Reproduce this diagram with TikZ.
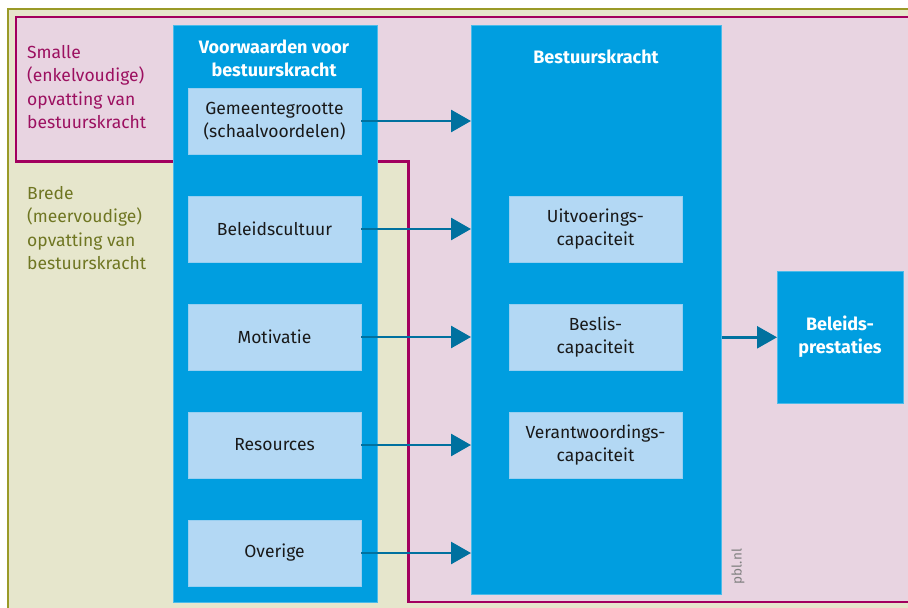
\documentclass[tikz,border=0pt]{standalone}
\usepackage{fontspec}
\setmainfont{Fira Sans}
\usetikzlibrary{arrows.meta}
\definecolor{olivefill}{HTML}{E6E6CC}
\definecolor{oliveline}{HTML}{9A9A28}
\definecolor{olivetext}{HTML}{6F7622}
\definecolor{pinkfill}{HTML}{E8D4E1}
\definecolor{magline}{HTML}{A2005E}
\definecolor{magtext}{HTML}{9C1060}
\definecolor{bluecol}{HTML}{009EE0}
\definecolor{lightbox}{HTML}{B3D8F4}
\definecolor{arrowcol}{HTML}{00719F}
\begin{document}
\begin{tikzpicture}[x=1pt,y=-1pt,
  column/.style={fill=bluecol, draw=bluecol!70!white, line width=0.6pt, inner sep=0pt, anchor=north west},
  innerbox/.style={fill=lightbox, draw=lightbox!85!bluecol, line width=0.6pt, minimum width=173pt, minimum height=66pt, inner sep=0pt, align=center, font=\fontsize{17.5}{23}\selectfont, text=black!90},
  coltitle/.style={text=white, font=\fontsize{18}{23}\selectfont\bfseries, align=center},
  sidelabel/.style={anchor=west, align=left, inner sep=0pt, font=\fontsize{17.5}{23.5}\selectfont},
  arr/.style={draw=arrowcol, line width=2.7pt, -{Triangle[length=20pt,width=22pt]}}
]
\useasboundingbox (0,0) rectangle (908,608);
\clip (0,0) rectangle (908,608);
% broad (olive) area
\fill[olivefill] (8,9) rectangle (930,630);
\draw[oliveline, line width=2pt] (930,9) -- (8,9) -- (8,630);
% narrow (magenta) area
\fill[pinkfill] (16,17) -- (930,17) -- (930,602) -- (408.5,602) -- (408.5,161.5) -- (16,161.5) -- cycle;
\draw[magline, line width=2.5pt] (930,17) -- (16,17) -- (16,161.5) -- (408.5,161.5) -- (408.5,602) -- (930,602);

% side labels
\node[sidelabel, text=magtext] (smalle) at (27,87) {Smalle\\(enkelvoudige)\\opvatting van\\bestuurskracht};
\node[sidelabel, text=olivetext] (brede) at (27,228) {Brede\\(meervoudige)\\opvatting van\\bestuurskracht};

% columns
\node[column, minimum width=204pt, minimum height=577pt] (vw) at (172.5,25) {};
\node[column, minimum width=250pt, minimum height=569pt] (bk) at (471,25) {};
\node[column, minimum width=126pt, minimum height=132pt] (bp) at (777,271) {};

\node[coltitle] (vwt) at (274,58) {Voorwaarden voor\\bestuurskracht};
\node[coltitle] (bkt) at (596,57) {Bestuurskracht};
\node[coltitle] (bpt) at (840,337) {Beleids-\\prestaties};

% left boxes
\node[innerbox] (g) at (274.5,121) {Gemeentegrootte\\(schaalvoordelen)};
\node[innerbox] (b) at (274.5,229) {Beleidscultuur};
\node[innerbox] (m) at (274.5,337) {Motivatie};
\node[innerbox] (r) at (274.5,445) {Resources};
\node[innerbox] (o) at (274.5,553) {Overige};

% right boxes
\node[innerbox] (u) at (595.5,229) {Uitvoerings-\\capaciteit};
\node[innerbox] (be) at (595.5,337) {Beslis-\\capaciteit};
\node[innerbox] (ve) at (595.5,445) {Verantwoordings-\\capaciteit};

% arrows
\foreach \n in {g,b,m,r,o}{
  \draw[arr] (\n.east) -- (\n.east -| bk.west);
}
\draw[arr] (bk.east |- bp.west) -- (bp.west);

% credit
\node[rotate=90, text=black!50, font=\fontsize{13.5}{15}\selectfont, inner sep=0pt] (pbl) at (738,566.5) {pbl.nl};
\end{tikzpicture}
\end{document}
